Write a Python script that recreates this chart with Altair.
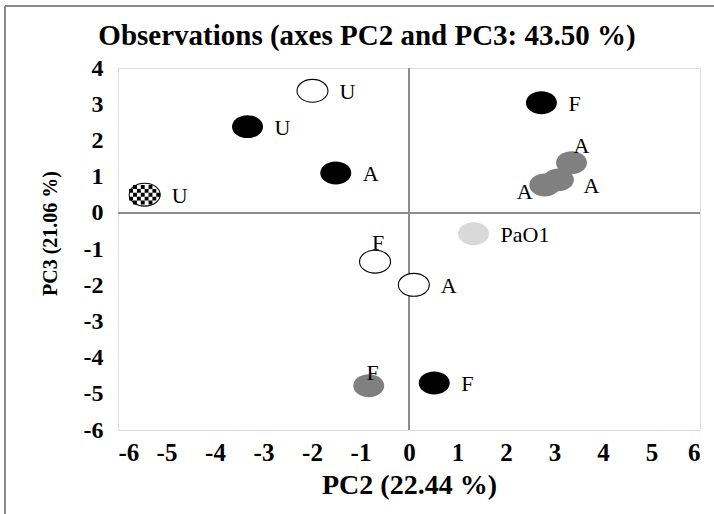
import altair as alt
import pandas as pd

# PCA observations on the PC2 / PC3 plane
pc2 = [-1.99, -3.33, -5.45, -1.51, 2.73, 3.35, 3.08, 2.80, 1.33, -0.70, 0.10, -0.83, 0.52]
pc3 = [3.37, 2.38, 0.50, 1.10, 3.04, 1.38, 0.91, 0.77, -0.58, -1.35, -1.99, -4.78, -4.70]
labels = ["U", "U", "U", "A", "F", "A", "A", "A", "PaO1", "F", "A", "F", "F"]
kinds = ["white", "black", "checker", "black", "black", "grey", "grey", "grey",
         "light", "white", "white", "grey", "black"]
places = ["right", "right", "right", "right", "right", "upper", "lowright", "left",
          "right", "above", "right", "over", "right"]
x_ticks = list(range(-6, 7))
y_ticks = list(range(-6, 5))
title_text = "Observations (axes PC2 and PC3: 43.50 %)"

df = pd.DataFrame({"pc2": pc2, "pc3": pc3, "label": labels, "kind": kinds, "place": places})

FONT = "Liberation Serif"
RY = 0.74  # vertical squash of the ellipse markers
ELLIPSE = f"M -1 0 A 1 {RY} 0 1 0 1 0 A 1 {RY} 0 1 0 -1 0 Z"


def checker_path(n=8, ry=RY):
    """Checkerboard squares that fall inside the unit ellipse."""
    step = 2.0 / n
    parts = []
    rows = int(round(2 * ry / step)) + 1
    for i in range(n):
        x0 = -1 + i * step
        for j in range(rows):
            y0 = -rows * step / 2 + j * step
            cx, cy = x0 + step / 2, y0 + step / 2
            if (i + j) % 2 == 0 and cx * cx + (cy / ry) ** 2 < 1.0:
                parts.append(
                    f"M {x0:.3f} {y0:.3f} L {x0 + step:.3f} {y0:.3f} "
                    f"L {x0 + step:.3f} {y0 + step:.3f} L {x0:.3f} {y0 + step:.3f} Z"
                )
    return " ".join(parts)


CHECKER = checker_path()
SIZE = 961

x_scale = alt.Scale(domain=[-6, 6], nice=False, zero=False)
y_scale = alt.Scale(domain=[-6, 4], nice=False, zero=False)
x_axis = alt.Axis(
    values=x_ticks, title="PC2 (22.44 %)", grid=False, ticks=False,
    domain=False, labelExpr="'' + datum.value", labelOverlap=False,
    labelFont=FONT, labelFontSize=25, labelFontWeight="bold",
    labelColor="black", labelPadding=10, titleFont=FONT, titleFontSize=28,
    titleFontWeight="bold", titleColor="black", titlePadding=6,
)
y_axis = alt.Axis(
    values=y_ticks, title="PC3 (21.06 %)", grid=False, ticks=False,
    domain=False, labelExpr="'' + datum.value", labelOverlap=False,
    labelFont=FONT, labelFontSize=24, labelFontWeight="bold",
    labelColor="black", labelPadding=15, titleFont=FONT, titleFontSize=20,
    titleFontWeight="bold", titleColor="black", titleX=-68, titleY=165,
    titleAngle=-90, titleBaseline="middle", titleAlign="center",
)

base = alt.Chart(df).encode(
    x=alt.X("pc2:Q", scale=x_scale, axis=x_axis),
    y=alt.Y("pc3:Q", scale=y_scale, axis=y_axis),
)

# axis cross-hairs through the origin
zero_v = alt.Chart(df).mark_rule(color="#8c8c8c", strokeWidth=1).encode(
    x=alt.XDatum(0, type="quantitative", scale=x_scale, axis=x_axis))
zero_h = alt.Chart(df).mark_rule(color="#8c8c8c", strokeWidth=1).encode(
    y=alt.YDatum(0, type="quantitative", scale=y_scale, axis=y_axis))

fills = base.mark_point(shape=ELLIPSE, size=SIZE, filled=True, opacity=1,
                        strokeWidth=0).encode(
    fill=alt.Fill("kind:N", legend=None, scale=alt.Scale(
        domain=["white", "black", "checker", "grey", "light"],
        range=["white", "black", "white", "#808080", "#d9d9d9"])))

checker = base.mark_point(shape=CHECKER, size=SIZE, filled=True, opacity=1,
                          color="black", strokeWidth=0).transform_filter(
    alt.datum.kind == "checker")

outlines = base.mark_point(shape=ELLIPSE, size=SIZE, filled=False, opacity=1,
                           color="black", strokeWidth=1.1).transform_filter(
    (alt.datum.kind == "white") | (alt.datum.kind == "checker"))

# label placement relative to each marker: (align, dx, dy)
placement = {
    "right": ("left", 27, 1),
    "lowright": ("left", 25, 6),
    "upper": ("center", 10, -17),
    "left": ("center", -20, 7),
    "above": ("center", 3, -19),
    "over": ("center", 4, -13),
}
text_layers = []
for key, (align, dx, dy) in placement.items():
    text_layers.append(
        base.mark_text(font=FONT, fontSize=22, color="black", align=align,
                       baseline="middle", dx=dx, dy=dy)
        .encode(text="label:N")
        .transform_filter(alt.datum.place == key)
    )

# chart heading, placed above the plot frame
heading = alt.Chart(pd.DataFrame({"t": [title_text]})).mark_text(
    font=FONT, fontSize=29, fontWeight="bold", color="black",
    align="center", baseline="alphabetic",
).encode(text="t:N", x=alt.value(249), y=alt.value(-23))

# thin grey outer frame along the top and left edges
frame_top = alt.Chart(df).mark_rule(color="#8a8a8a", strokeWidth=1.6).encode(
    x=alt.value(-113), x2=alt.value(600), y=alt.value(-62))
frame_left = alt.Chart(df).mark_rule(color="#8a8a8a", strokeWidth=2).encode(
    x=alt.value(-113), y=alt.value(-62), y2=alt.value(450))

chart = alt.layer(
    zero_v, zero_h, fills, checker, outlines, *text_layers, heading,
    frame_top, frame_left
).properties(
    width=582,
    height=362,
    autosize=alt.AutoSizeParams(type="none"),
    padding={"left": 118, "top": 68, "right": 14, "bottom": 84},
).configure_view(stroke="#a0a0a0", strokeWidth=1).configure(background="white")

chart.save("out.html", embed_options={"renderer": "svg", "actions": False})
